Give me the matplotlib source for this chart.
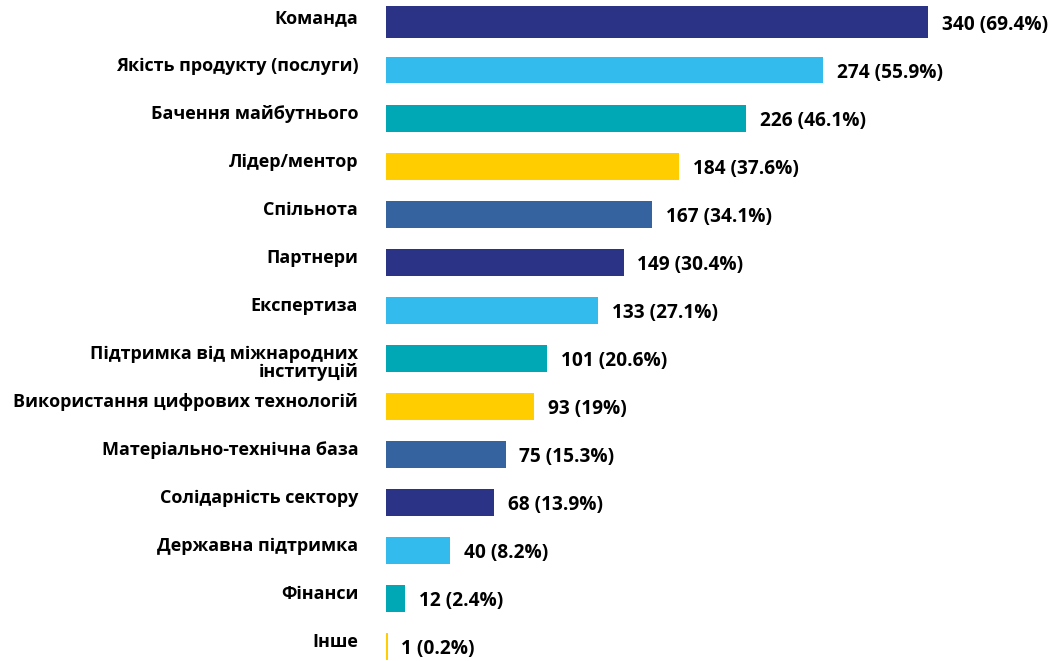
import matplotlib
matplotlib.use("Agg")
import matplotlib.pyplot as plt

categories = ["Команда", "Якість продукту (послуги)", "Бачення майбутнього",
              "Лідер/ментор", "Спільнота", "Партнери", "Експертиза",
              "Підтримка від міжнародних\nінституцій",
              "Використання цифрових технологій", "Матеріально-технічна база",
              "Солідарність сектору", "Державна підтримка", "Фінанси", "Інше"]
counts = [340, 274, 226, 184, 167, 149, 133, 101, 93, 75, 68, 40, 12, 1]
percents = ["69.4", "55.9", "46.1", "37.6", "34.1", "30.4", "27.1", "20.6",
            "19", "15.3", "13.9", "8.2", "2.4", "0.2"]
palette = ["#2B3386", "#33BBEE", "#00A8B5", "#FFCD00", "#3563A0"]

W, H = 1053, 661
fig = plt.figure(figsize=(W / 100, H / 100), dpi=100)
ax = fig.add_axes([386 / W, 0, 1 - 386 / W, 1])

n = len(categories)
ypos = list(range(n))
colors = [palette[i % len(palette)] for i in range(n)]
heights = [0.66] + [0.56] * (n - 1)
ax.barh(ypos, counts, height=heights, color=colors)

step = 48.04
top_off = 22
ax.set_ylim((H - top_off) / step, -top_off / step)
ax.set_xlim(0, (W - 386) / (542 / 340))
ax.axis("off")

font = ["Open Sans", "DejaVu Sans"]
for i, (c, v, p) in enumerate(zip(categories, counts, percents)):
    dy = -3.5 if "\n" in c else 3
    ax.annotate(c, xy=(0, i), xytext=(-20, dy), textcoords="offset points",
                ha="right", va="center", fontsize=13.0, fontweight="bold",
                family=font, multialignment="right", linespacing=1.0)
    ax.annotate(f"{v} ({p}%)", xy=(v, i), xytext=(10, -2), textcoords="offset points",
                ha="left", va="center", fontsize=13.8, fontweight="bold", family=font)

fig.savefig("out.png", dpi=100)
